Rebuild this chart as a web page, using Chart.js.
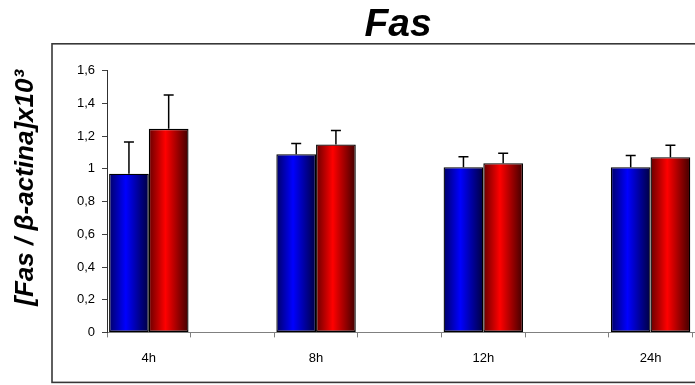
<!DOCTYPE html>
<html>
<head>
<meta charset="utf-8">
<script src="https://cdn.jsdelivr.net/npm/chart.js@4.4.1/dist/chart.umd.min.js"></script>
<style>
  html, body { margin: 0; padding: 0; background: #fff; overflow: hidden; }
  #wrap { width: 796px; height: 385px; }
</style>
</head>
<body>
<div id="wrap"><canvas id="c" width="796" height="385"></canvas></div>
<script>
// Time points and measured ratios (mean and upper error) for the two groups
const timePoints = ['4h', '8h', '12h', '24h'];
const controlValues = [0.97, 1.09, 1.01, 1.01];
const controlErrors = [0.195, 0.066, 0.064, 0.072];
const treatedValues = [1.245, 1.15, 1.035, 1.072];
const treatedErrors = [0.207, 0.085, 0.061, 0.073];
const yTicks = [0, 0.2, 0.4, 0.6, 0.8, 1, 1.2, 1.4, 1.6];
const yAxisTitle = '[Fas / β-actina]x10³';

// Each time point is followed by an empty slot on the category axis
const categories = timePoints.flatMap(t => [t, '']);
const spread = arr => arr.flatMap(v => [v, null]);

const CAT_PCT = 0.95;
const FONT = 'Liberation Sans, Arial, sans-serif';

function barGradient(ctx, stops) {
  const chart = ctx.chart;
  const x = chart.scales && chart.scales.x;
  const fallback = stops[1][1];
  if (!x || ctx.type !== 'data') return fallback;
  const center = x.getPixelForValue(ctx.dataIndex);
  const catW = x.getPixelForValue(1) - x.getPixelForValue(0);
  if (!isFinite(center) || !isFinite(catW) || catW <= 0) return fallback;
  const barW = catW * CAT_PCT / 2;
  const left = ctx.datasetIndex === 0 ? center - barW : center;
  const g = chart.ctx.createLinearGradient(left, 0, left + barW, 0);
  stops.forEach(([p, c]) => g.addColorStop(p, c));
  return g;
}

const blueStops = [[0, '#000068'], [0.42, '#0000ff'], [1, '#000040']];
const redStops = [[0, '#680000'], [0.42, '#ff0000'], [1, '#400000']];

const errorBars = {
  id: 'errorBars',
  afterDatasetsDraw(chart) {
    const { ctx, scales: { y } } = chart;
    const errs = [spread(controlErrors), spread(treatedErrors)];
    ctx.save();
    ctx.strokeStyle = '#000';
    ctx.lineWidth = 1.5;
    chart.data.datasets.forEach((ds, di) => {
      chart.getDatasetMeta(di).data.forEach((el, i) => {
        const v = ds.data[i];
        if (v == null) return;
        const top = y.getPixelForValue(v + errs[di][i]);
        ctx.beginPath();
        ctx.moveTo(el.x, el.y);
        ctx.lineTo(el.x, top);
        ctx.moveTo(el.x - 5, top);
        ctx.lineTo(el.x + 5, top);
        ctx.stroke();
      });
    });
    ctx.restore();
  }
};

// Outer frame around plot and category labels, plus the rotated value-axis title
const frame = {
  id: 'frame',
  afterDraw(chart) {
    const { ctx, chartArea } = chart;
    ctx.save();
    ctx.strokeStyle = '#383838';
    ctx.lineWidth = 1.6;
    const l = chartArea.left - 55, t = chartArea.top - 27;
    const r = chartArea.right + 6, b = chartArea.bottom + 50;
    ctx.strokeRect(l, t, r - l, b - t);

    ctx.translate(chartArea.left - 81, chartArea.top + 117);
    ctx.rotate(-Math.PI / 2);
    ctx.fillStyle = '#000';
    ctx.font = 'italic bold 26px ' + FONT;
    ctx.textAlign = 'center';
    ctx.textBaseline = 'middle';
    ctx.fillText(yAxisTitle, 0, 0);
    ctx.restore();
  }
};

new Chart(document.getElementById('c'), {
  type: 'bar',
  data: {
    labels: categories,
    datasets: [
      {
        label: 'Control',
        data: spread(controlValues),
        backgroundColor: ctx => barGradient(ctx, blueStops),
        borderColor: '#000',
        borderWidth: 1.3,
        borderSkipped: false
      },
      {
        label: 'Tratado',
        data: spread(treatedValues),
        backgroundColor: ctx => barGradient(ctx, redStops),
        borderColor: '#000',
        borderWidth: 1.3,
        borderSkipped: false
      }
    ]
  },
  options: {
    responsive: false,
    devicePixelRatio: 1,
    animation: false,
    layout: { padding: { left: 20, right: 20, top: 0, bottom: 6 } },
    datasets: { bar: { categoryPercentage: CAT_PCT, barPercentage: 1 } },
    plugins: {
      legend: { display: false },
      tooltip: { enabled: false },
      title: {
        display: true,
        text: 'Fas',
        color: '#000',
        font: { family: FONT, size: 39, weight: 'bold', style: 'italic' },
        padding: { top: 2, bottom: 22 }
      }
    },
    scales: {
      x: {
        grid: { display: true, drawOnChartArea: false, drawTicks: true, tickLength: 5, color: '#808080', offset: true },
        border: { display: true, color: '#808080', width: 1 },
        ticks: {
          autoSkip: false, maxRotation: 0, padding: 13, color: '#000',
          font: { family: FONT, size: 13 }
        }
      },
      y: {
        min: 0, max: 1.6,
        afterFit(scale) { scale.width = 87; },
        afterBuildTicks(scale) { scale.ticks = yTicks.map(v => ({ value: v })); },
        grid: { display: true, drawOnChartArea: false, drawTicks: true, tickLength: 5, color: '#404040' },
        border: { display: true, color: '#303030', width: 1 },
        ticks: {
          padding: 7, color: '#000',
          font: { family: FONT, size: 13 },
          callback: v => String(Math.round(v * 10) / 10).replace('.', ',')
        }
      }
    }
  },
  plugins: [errorBars, frame]
});
</script>
</body>
</html>
